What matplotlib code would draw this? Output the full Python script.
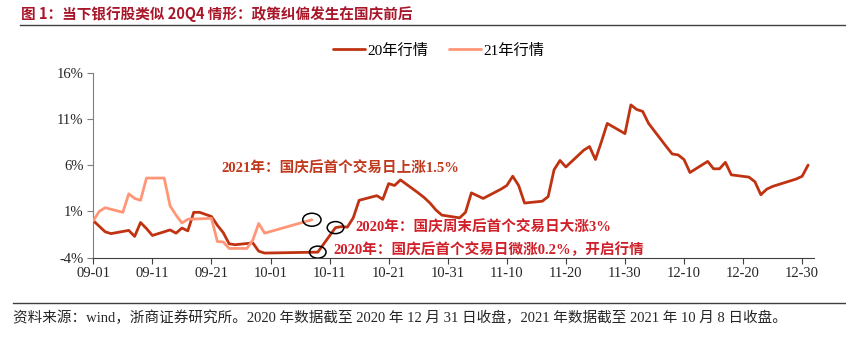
import matplotlib.pyplot as plt
import matplotlib.dates as mdates
import pandas as pd
from matplotlib.lines import Line2D
from matplotlib.patches import Ellipse

# 2020 bank index path since 09-01 (cumulative %, month-day)
dates_20 = ['09-01', '09-03', '09-04', '09-07', '09-08', '09-09', '09-10', '09-11',
            '09-14', '09-15', '09-16', '09-17', '09-18', '09-19', '09-21', '09-22',
            '09-23', '09-24', '09-25', '09-28', '09-29', '09-30', '10-09', '10-12',
            '10-13', '10-14', '10-15', '10-16', '10-19', '10-20', '10-21', '10-22',
            '10-23', '10-26', '10-27', '10-28', '10-29', '10-30', '11-02', '11-03',
            '11-04', '11-05', '11-06', '11-09', '11-10', '11-11', '11-12', '11-13',
            '11-16', '11-17', '11-18', '11-19', '11-20', '11-23', '11-24', '11-25',
            '11-26', '11-27', '11-30', '12-01', '12-02', '12-03', '12-04', '12-07',
            '12-08', '12-09', '12-10', '12-11', '12-14', '12-15', '12-16', '12-17',
            '12-18', '12-21', '12-22', '12-23', '12-24', '12-25', '12-28', '12-29',
            '12-30', '12-31']
vals_20 = [0.0, -1.2, -1.4, -1.05, -1.7, -0.2, -0.85, -1.6,
           -1.0, -1.35, -0.8, -1.1, 0.9, 0.9, 0.45, -0.5,
           -1.3, -2.5, -2.6, -2.4, -3.3, -3.5, -3.4, -0.75,
           -0.65, -0.7, 0.3, 2.2, 2.7, 2.3, 4.0, 3.8,
           4.4, 3.0, 2.5, 1.9, 1.15, 0.6, 0.3, 0.9,
           3.0, 2.7, 2.4, 3.4, 3.8, 4.8, 3.8, 1.9,
           2.1, 2.6, 5.5, 6.5, 5.8, 7.6, 8.0, 6.6,
           8.5, 10.5, 9.4, 12.5, 12.0, 11.8, 10.5, 8.0,
           7.2, 7.1, 6.6, 5.2, 6.4, 5.6, 5.6, 6.3,
           4.95, 4.7, 4.2, 2.8, 3.4, 3.7, 4.3, 4.5,
           4.8, 6.0]

# 2021 path since 09-01, up to 10-08
dates_21 = ['09-01', '09-02', '09-03', '09-06', '09-07', '09-08', '09-09', '09-10',
            '09-13', '09-14', '09-15', '09-16', '09-17', '09-21', '09-22', '09-23',
            '09-24', '09-27', '09-28', '09-29', '09-30', '10-08']
vals_21 = [0.0, 1.0, 1.4, 0.9, 2.9, 2.4, 2.2, 4.6,
           4.6, 1.6, 0.6, -0.25, 0.15, 0.25, -2.25, -2.3,
           -3.0, -3.0, -2.1, -0.3, -1.35, 0.1]

labels = ['20年行情', '21年行情']
tick_dates = pd.date_range('2020-09-01', periods=13, freq='10D')

c20 = '#BF3312'
c21 = '#FF9678'
serif = ['Liberation Serif', 'Noto Sans CJK SC']
cjk = ['Noto Sans CJK SC', 'DejaVu Sans']

x20 = pd.to_datetime(['2020-' + d for d in dates_20])
x21 = pd.to_datetime(['2020-' + d for d in dates_21])   # same month-day axis

W, H = 846, 337
fig = plt.figure(figsize=(W / 100, H / 100), dpi=100)
ax = fig.add_axes([93.3 / W, 1 - 257.7 / H, (814 - 93.3) / W, (257.7 - 72.5) / H])

l20, = ax.plot(x20, vals_20, color=c20, lw=2.0, solid_joinstyle='round',
               solid_capstyle='round', zorder=3)
l21, = ax.plot(x21, vals_21, color=c21, lw=2.0, solid_joinstyle='round',
               solid_capstyle='round', zorder=4)

# circles on the post-holiday sessions
def ring(d, v, w, h):
    ax.add_patch(Ellipse((mdates.date2num(pd.Timestamp('2020-' + d)), v), w, h,
                         fill=False, ec='black', lw=1.1, zorder=5))

ring('10-08', vals_21[-1], 3.1, 1.4)
ring('10-12', vals_20[dates_20.index('10-12')], 2.8, 1.3)
ring('10-09', vals_20[dates_20.index('10-09')], 2.8, 1.3)

ax.set_xlim(pd.Timestamp('2020-09-01'), pd.Timestamp('2021-01-01'))
ax.set_ylim(-4, 16)
ax.set_yticks([-4, 1, 6, 11, 16])
ax.set_yticklabels(['%d%%' % t for t in [-4, 1, 6, 11, 16]])
ax.set_xticks(tick_dates)
ax.xaxis.set_major_formatter(mdates.DateFormatter('%m-%d'))

for s in ['top', 'right']:
    ax.spines[s].set_visible(False)
ax.spines['left'].set_color('#7f7f7f')
ax.spines['bottom'].set_color('#404040')
ax.tick_params(axis='y', direction='out', length=4, color='#7f7f7f', pad=3)
ax.tick_params(axis='x', direction='out', length=4, color='#404040', pad=3)
for t in ax.get_xticklabels() + ax.get_yticklabels():
    t.set_family(serif)
    t.set_fontsize(10.5)
    t.set_color('#262626')

ax.legend([l20, l21], labels, loc='center', bbox_to_anchor=(438.7 / W, 1 - 50.7 / H),
          bbox_transform=fig.transFigure, ncol=2, frameon=False, handlelength=2.1,
          handletextpad=0.2, columnspacing=1.3, prop={'family': serif, 'size': 11})

# annotations
fig.text(221.7 / W, 1 - 168.3 / H, '2021年：国庆后首个交易日上涨1.5%', color='#C0391C',
         fontsize=10.5, fontweight='bold', family=serif, va='center')
fig.text(355 / W, 1 - 227.3 / H, '2020年：国庆周末后首个交易日大涨3%', color='#D0202A',
         fontsize=10.5, fontweight='bold', family=serif, va='center')
fig.text(333.3 / W, 1 - 249.3 / H, '2020年：国庆后首个交易日微涨0.2%，开启行情', color='#D0202A',
         fontsize=10.5, fontweight='bold', family=serif, va='center')

# header and footer
fig.text(21 / W, 1 - 13.5 / H, '图 1：当下银行股类似 20Q4 情形：政策纠偏发生在国庆前后',
         color='#A8162A', fontsize=10.5, fontweight='bold', family=cjk, va='center')
fig.add_artist(Line2D([20 / W, 1], [1 - 25 / H] * 2, color='#404040', lw=1.0))
fig.add_artist(Line2D([13 / W, 1], [1 - 303 / H] * 2, color='#404040', lw=1.0))
fig.text(13 / W, 1 - 318 / H,
         '资料来源：wind，浙商证券研究所。2020 年数据截至 2020 年 12 月 31 日收盘，'
         '2021 年数据截至 2021 年 10 月 8 日收盘。',
         color='#262626', fontsize=10.5, family=serif, va='center')

fig.savefig('out.png', dpi=100)
